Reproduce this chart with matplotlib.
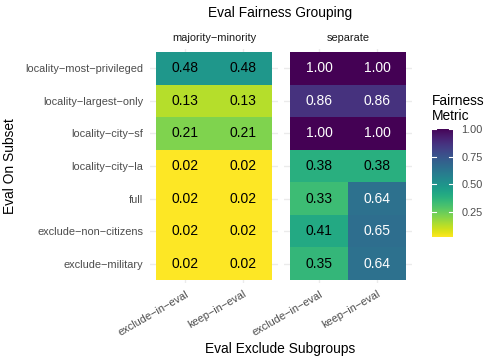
import matplotlib
matplotlib.use("Agg")
import matplotlib.pyplot as plt
import numpy as np
from matplotlib.colors import Normalize

plt.rcParams['font.family'] = ['Liberation Sans', 'DejaVu Sans']

subsets = ["locality−most−privileged", "locality−largest−only", "locality−city−sf",
           "locality−city−la", "full", "exclude−non−citizens", "exclude−military"]
subgroups = ["exclude−in−eval", "keep−in−eval"]
groupings = ["majority−minority", "separate"]

mm_exclude = [0.48, 0.13, 0.21, 0.02, 0.02, 0.02, 0.02]
mm_keep = [0.48, 0.13, 0.21, 0.02, 0.02, 0.02, 0.02]
sep_exclude = [1.00, 0.86, 1.00, 0.38, 0.33, 0.41, 0.35]
sep_keep = [1.00, 0.86, 1.00, 0.38, 0.64, 0.65, 0.64]
cbar_ticks = [0.25, 0.50, 0.75, 1.00]

panels = [np.array([mm_exclude, mm_keep]).T, np.array([sep_exclude, sep_keep]).T]
allv = np.concatenate([p.ravel() for p in panels])
norm = Normalize(vmin=allv.min(), vmax=allv.max())
cmap = plt.get_cmap("viridis_r")

W, H = 498, 363
fig = plt.figure(figsize=(W / 100, H / 100), dpi=100)
fig.patch.set_facecolor("white")

def fx(px):
    return px / W

def fy(py):
    return 1 - py / H

top_px, bot_px = 48.7, 283.3
lefts = [150.2, 284.2]
pw = 127.6
grid_c = "#EBEBEB"
tick_c = "#4D4D4D"
small = 7.9
big = 9.9

for k, data in enumerate(panels):
    ax = fig.add_axes([fx(lefts[k]), fy(bot_px), fx(pw), (bot_px - top_px) / H])
    ax.set_xlim(0.4, 2.6)
    ax.set_ylim(len(subsets) + 0.6, 0.4)
    for s in ax.spines.values():
        s.set_visible(False)
    ax.set_xticks([1, 2])
    ax.set_yticks(range(1, len(subsets) + 1))
    ax.grid(True, color=grid_c, linewidth=1.0, zorder=0)
    ax.set_axisbelow(True)
    ax.tick_params(length=0, colors=tick_c, labelsize=small)
    xe = np.arange(0.5, 3.0, 1.0)
    ye = np.arange(0.5, len(subsets) + 1.0, 1.0)
    ax.pcolormesh(xe, ye, data, cmap=cmap, norm=norm, zorder=2)
    for i in range(len(subsets)):
        for j in range(2):
            v = data[i, j]
            ax.text(j + 1, i + 1, f"{v:.2f}", ha="center", va="center", fontsize=10,
                    color="white" if v > 0.5 else "black", zorder=3)
    ax.set_xticklabels(subgroups, rotation=30, ha="right", va="top", rotation_mode="anchor")
    ax.tick_params(axis="x", pad=4)
    if k == 0:
        ax.set_yticklabels(subsets)
        ax.tick_params(axis="y", pad=5)
    else:
        ax.set_yticklabels([])
    ax.text(0.5, 1.0 + 10.5 / (bot_px - top_px), groupings[k], transform=ax.transAxes,
            ha="center", va="center", fontsize=small, color="#1A1A1A")

fig.text(fx(280.5), fy(13), "Eval Fairness Grouping", ha="center", va="center", fontsize=big)
fig.text(fx(280.5), fy(349), "Eval Exclude Subgroups", ha="center", va="center", fontsize=big)
fig.text(fx(10), fy(166), "Eval On Subset", ha="center", va="center", fontsize=big, rotation=90)

# colorbar
cax = fig.add_axes([fx(432), fy(237), fx(21), (237 - 129) / H])
grad = np.linspace(norm.vmin, norm.vmax, 256).reshape(-1, 1)
cax.imshow(grad, aspect="auto", cmap=cmap, norm=norm, origin="lower",
           extent=[0, 1, norm.vmin, norm.vmax])
cax.set_xlim(0, 1)
cax.set_ylim(norm.vmin, norm.vmax)
for s in cax.spines.values():
    s.set_visible(False)
cax.set_xticks([])
cax.set_yticks(cbar_ticks)
cax.yaxis.tick_right()
cax.set_yticklabels([f"{t:.2f}" for t in cbar_ticks])
cax.tick_params(axis="y", length=0, labelsize=small, colors=tick_c, pad=6)
for t in cbar_ticks:
    cax.plot([0, 0.2], [t, t], color="white", lw=0.8)
    cax.plot([0.8, 1], [t, t], color="white", lw=0.8)
fig.text(fx(432), fy(94), "Fairness\nMetric", ha="left", va="top", fontsize=big, linespacing=1.05)

fig.savefig("out.png", dpi=100, facecolor="white")
